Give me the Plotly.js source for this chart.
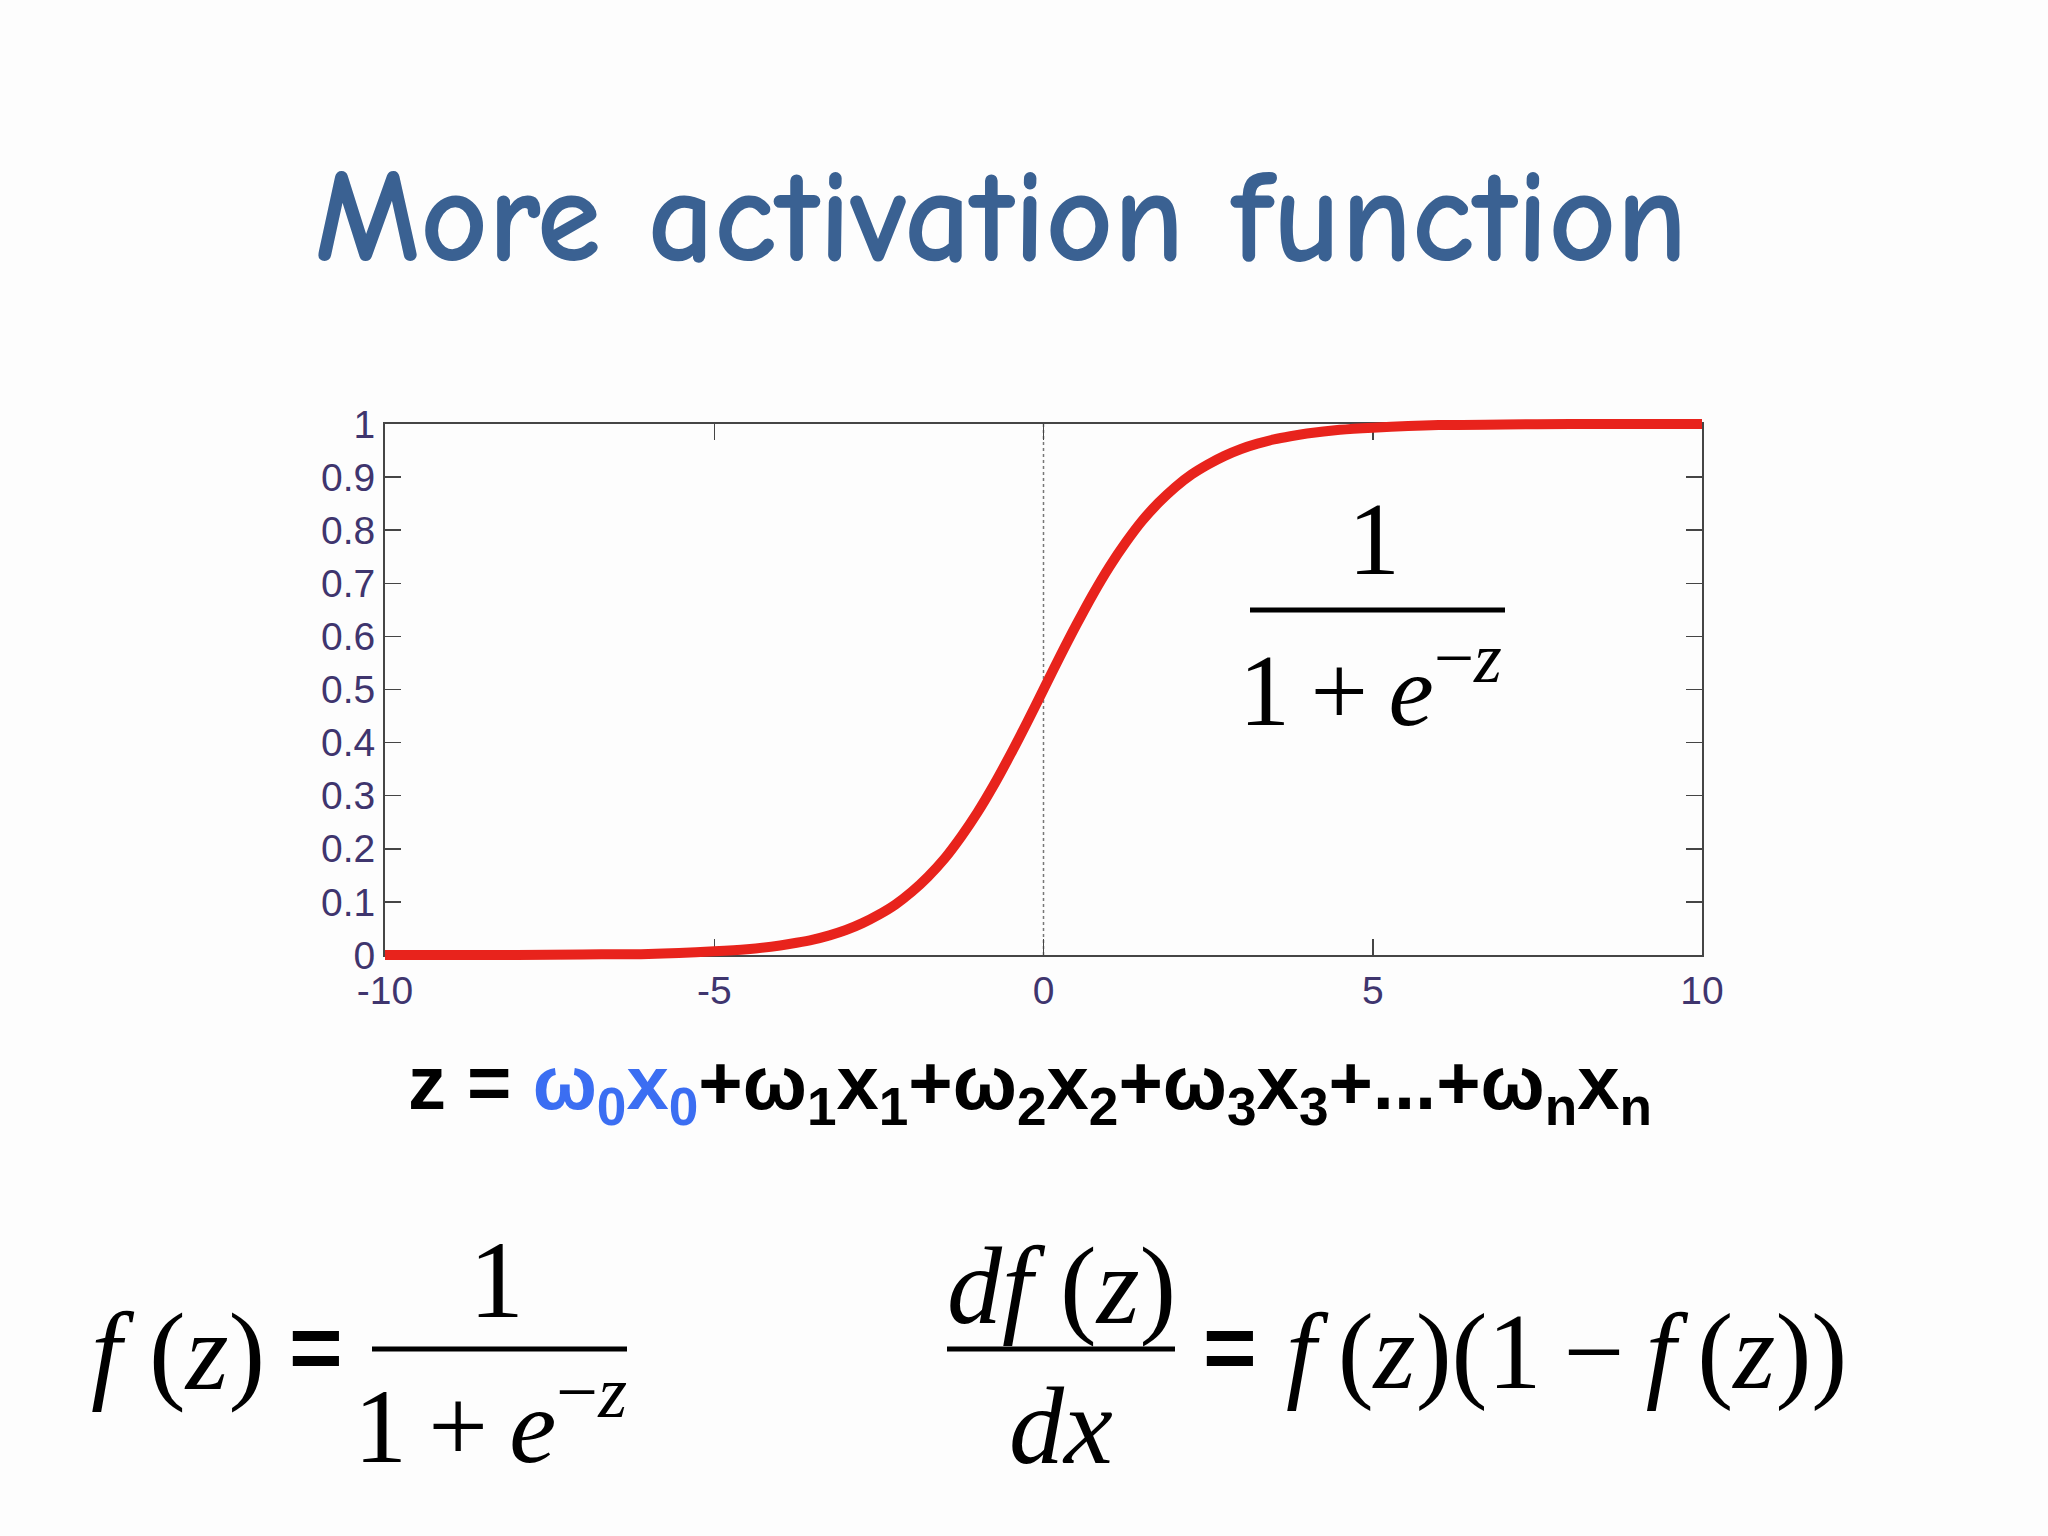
<!DOCTYPE html>
<html>
<head>
<meta charset="utf-8">
<script src="https://cdn.plot.ly/plotly-3.0.1.min.js"></script>
<style>html,body{margin:0;padding:0;background:#fdfdfd;}#chart{width:2048px;height:1536px;}</style>
</head>
<body>
<div id="chart"></div>
<script>
// ---- data ----
const zValues = [-10, -9, -8, -7, -6, -5, -4.5, -4, -3.75, -3.5, -3.25, -3, -2.75, -2.5, -2.25, -2, -1.75, -1.5, -1.25, -1, -0.75, -0.5, -0.25, 0, 0.25, 0.5, 0.75, 1, 1.25, 1.5, 1.75, 2, 2.25, 2.5, 2.75, 3, 3.25, 3.5, 3.75, 4, 4.5, 5, 6, 7, 8, 9, 10];
const fValues = [0.000, 0.000, 0.000, 0.001, 0.002, 0.007, 0.011, 0.018, 0.023, 0.029, 0.037, 0.047, 0.060, 0.076, 0.095, 0.119, 0.148, 0.182, 0.223, 0.269, 0.321, 0.378, 0.438, 0.500, 0.562, 0.622, 0.679, 0.731, 0.777, 0.818, 0.852, 0.881, 0.905, 0.924, 0.940, 0.953, 0.963, 0.971, 0.977, 0.982, 0.989, 0.993, 0.998, 0.999, 1.000, 1.000, 1.000];
const dottedX = [0, 0];
const dottedY = [0, 1];
const xTickVals = [-10, -5, 0, 5, 10];
const xTickText = ['-10', '-5', '0', '5', '10'];
const yTickVals = [0, 0.1, 0.2, 0.3, 0.4, 0.5, 0.6, 0.7, 0.8, 0.9, 1];
const yTickText = ['0', '0.1', '0.2', '0.3', '0.4', '0.5', '0.6', '0.7', '0.8', '0.9', '1'];
const xRange = [-10, 10];
const yRange = [0, 1];
const titleText = 'More activation function';

// ---- layout geometry (pixels) ----
const W = 2048, H = 1536;
const PL = 385, PR = 1702, PT = 424, PB = 955; // plot frame
const PAD = 20;
const mL = PL - PAD, mR = W - PR - PAD, mT = PT - PAD, mB = H - PB - PAD;
const paperW = W - mL - mR, paperH = H - mT - mB;
function px(x) { return (x - mL) / paperW; }
function py(y) { return (H - mB - y) / paperH; }
const xPerPx = (xRange[1] - xRange[0]) / (PR - PL);
const yPerPx = (yRange[1] - yRange[0]) / (PB - PT);

const tickColor = '#3f356e';
const frameColor = '#454545';
const serif = 'Liberation Serif, Times New Roman, serif';
const sans = 'Liberation Sans, Arial, sans-serif';

const traces = [
  {x: dottedX, y: dottedY, xaxis: 'x', yaxis: 'y', mode: 'lines',
   line: {color: '#777777', width: 1.5, dash: 'dot'}, hoverinfo: 'skip', showlegend: false},
  {x: zValues, y: fValues, xaxis: 'x2', yaxis: 'y2', mode: 'lines',
   line: {color: '#e8231c', width: 10, shape: 'spline', smoothing: 0.8}, hoverinfo: 'skip', showlegend: false}
];

const axisCommon = {
  showgrid: false, zeroline: false, showline: true, linecolor: frameColor, linewidth: 2,
  mirror: 'ticks', ticks: 'inside', ticklen: 16, tickwidth: 1.5, tickcolor: frameColor,
  tickfont: {family: sans, size: 39, color: tickColor},
  fixedrange: true
};

const annotations = [
  // fraction inside plot
  {text: '1', x: px(1374), y: py(538), font: {family: serif, size: 104, color: '#000'}},
  {text: '1\u2009+\u2009<i>e</i><sup>−<i>z</i></sup>', x: px(1370), y: py(682), font: {family: serif, size: 102, color: '#000'}},
  // z = ... line
  {text: '<b>z = <span style="color:#3b6ef2">ω<sub>0</sub>x<sub>0</sub></span>+ω<sub>1</sub>x<sub>1</sub>+ω<sub>2</sub>x<sub>2</sub>+ω<sub>3</sub>x<sub>3</sub>+...+ω<sub>n</sub>x<sub>n</sub></b>',
   x: px(1030), y: py(1088), font: {family: sans, size: 76, color: '#000'}},
  // bottom left equation
  {text: '<i>f</i> (<i>z</i>)', x: px(178), y: py(1352), font: {family: serif, size: 110, color: '#000'}},
  {text: '<b>=</b>', x: px(316), y: py(1347), font: {family: sans, size: 92, color: '#000'}},
  {text: '1', x: px(496), y: py(1280), font: {family: serif, size: 110, color: '#000'}},
  {text: '1\u2009+\u2009<i>e</i><sup>−<i>z</i></sup>', x: px(490), y: py(1418), font: {family: serif, size: 106, color: '#000'}},
  // bottom right equation
  {text: '<i>df</i> (<i>z</i>)', x: px(1061), y: py(1286), font: {family: serif, size: 110, color: '#000'}},
  {text: '<i>dx</i>', x: px(1061), y: py(1426), font: {family: serif, size: 110, color: '#000'}},
  {text: '<b>=</b>', x: px(1230), y: py(1347), font: {family: sans, size: 92, color: '#000'}},
  {text: '<i>f</i>\u2009(<i>z</i>)(1\u2009−\u2009<i>f</i>\u2009(<i>z</i>))', x: px(1284), xanchor: 'left', y: py(1352), font: {family: serif, size: 108, color: '#000'}}
].map(a => Object.assign({xref: 'paper', yref: 'paper', showarrow: false, xanchor: 'center', yanchor: 'middle'}, a));

const shapes = [
  {type: 'line', xref: 'paper', yref: 'paper', x0: px(1250), x1: px(1505), y0: py(610), y1: py(610), line: {color: '#000', width: 5}},
  {type: 'line', xref: 'paper', yref: 'paper', x0: px(372), x1: px(627), y0: py(1349), y1: py(1349), line: {color: '#000', width: 5}},
  {type: 'line', xref: 'paper', yref: 'paper', x0: px(947), x1: px(1175), y0: py(1349), y1: py(1349), line: {color: '#000', width: 5}}
];

const layout = {
  width: W, height: H,
  paper_bgcolor: '#fdfdfd', plot_bgcolor: 'rgba(0,0,0,0)',
  margin: {l: mL, r: mR, t: mT, b: mB, pad: 0},
  showlegend: false, hovermode: false,
  title: {text: titleText, x: 1001 / W, xref: 'container', xanchor: 'center', y: 1 - 214 / H, yref: 'container', yanchor: 'middle',
          font: {family: 'Comic Sans MS, Comic Neue, Lato, sans-serif', size: 131, weight: 'bold', color: '#3a6192'}},
  xaxis: Object.assign({}, axisCommon, {domain: [PAD / paperW, 1 - PAD / paperW], range: xRange, tickvals: xTickVals, ticktext: xTickText, anchor: 'y'}),
  yaxis: Object.assign({}, axisCommon, {domain: [PAD / paperH, 1 - PAD / paperH], range: yRange, tickvals: yTickVals, ticktext: yTickText, anchor: 'x'}),
  xaxis2: {domain: [0, 1], range: [xRange[0] - PAD * xPerPx, xRange[1] + PAD * xPerPx], visible: false, anchor: 'y2', fixedrange: true},
  yaxis2: {domain: [0, 1], range: [yRange[0] - PAD * yPerPx, yRange[1] + PAD * yPerPx], visible: false, anchor: 'x2', fixedrange: true},
  annotations: annotations,
  shapes: shapes
};

Plotly.newPlot('chart', traces, layout, {displayModeBar: false, staticPlot: true});
</script>
</body>
</html>
